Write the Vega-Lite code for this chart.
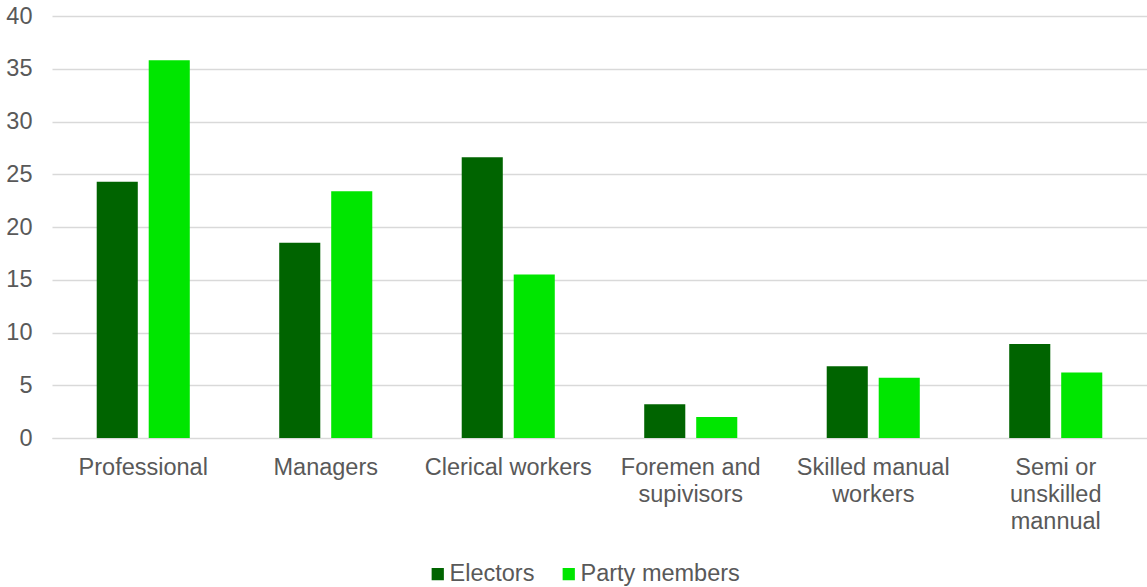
{
  "$schema": "https://vega.github.io/schema/vega-lite/v6.json",
  "width": 1095,
  "height": 422,
  "autosize": {"type": "none"},
  "padding": {"left": 52, "top": 16, "right": 0, "bottom": 149},
  "background": "white",
  "config": {
    "view": {"stroke": null},
    "font": "Liberation Sans"
  },
  "data": {
    "values": [
      {"category": "Professional", "group": "Electors", "value": 24.3},
      {"category": "Professional", "group": "Party members", "value": 35.8},
      {"category": "Managers", "group": "Electors", "value": 18.5},
      {"category": "Managers", "group": "Party members", "value": 23.4},
      {"category": "Clerical workers", "group": "Electors", "value": 26.6},
      {"category": "Clerical workers", "group": "Party members", "value": 15.5},
      {"category": "Foremen and supivisors", "group": "Electors", "value": 3.2},
      {"category": "Foremen and supivisors", "group": "Party members", "value": 2.0},
      {"category": "Skilled manual workers", "group": "Electors", "value": 6.8},
      {"category": "Skilled manual workers", "group": "Party members", "value": 5.7},
      {"category": "Semi or unskilled mannual", "group": "Electors", "value": 8.9},
      {"category": "Semi or unskilled mannual", "group": "Party members", "value": 6.2}
    ]
  },
  "mark": {"type": "bar"},
  "encoding": {
    "x": {
      "field": "category",
      "type": "nominal",
      "sort": null,
      "scale": {"paddingInner": 0, "paddingOuter": 0},
      "axis": {
        "title": null,
        "labelAngle": 0,
        "ticks": false,
        "domain": true,
        "domainColor": "#d9d9d9",
        "domainWidth": 1,
        "labelFont": "Liberation Sans",
        "labelFontSize": 23.5,
        "labelColor": "#595959",
        "labelPadding": 17,
        "labelBaseline": "top",
        "labelLineHeight": 27,
        "labelLimit": 300,
        "labelOverlap": false,
        "labelExpr": "datum.value == 'Foremen and supivisors' ? ['Foremen and', 'supivisors'] : datum.value == 'Skilled manual workers' ? ['Skilled manual', 'workers'] : datum.value == 'Semi or unskilled mannual' ? ['Semi or', 'unskilled', 'mannual'] : datum.value"
      }
    },
    "xOffset": {
      "field": "group",
      "type": "nominal",
      "scale": {"paddingInner": 0.21, "paddingOuter": 0.86}
    },
    "y": {
      "field": "value",
      "type": "quantitative",
      "scale": {"domain": [0, 40]},
      "axis": {
        "title": null,
        "values": [0, 5, 10, 15, 20, 25, 30, 35, 40],
        "ticks": false,
        "domain": false,
        "gridColor": "#d9d9d9",
        "gridWidth": 1.5,
        "labelFont": "Liberation Sans",
        "labelFontSize": 23.5,
        "labelColor": "#595959",
        "labelOverlap": false,
        "labelPadding": 20
      }
    },
    "color": {
      "field": "group",
      "type": "nominal",
      "scale": {"domain": ["Electors", "Party members"], "range": ["#006400", "#00e600"]},
      "legend": {
        "title": null,
        "orient": "none",
        "direction": "horizontal",
        "legendX": 374,
        "legendY": 546,
        "symbolType": "square",
        "symbolSize": 150,
        "symbolStrokeWidth": 0,
        "labelFont": "Liberation Sans",
        "labelFontSize": 23.5,
        "labelColor": "#595959",
        "labelOffset": 0,
        "columnPadding": 22
      }
    }
  }
}
